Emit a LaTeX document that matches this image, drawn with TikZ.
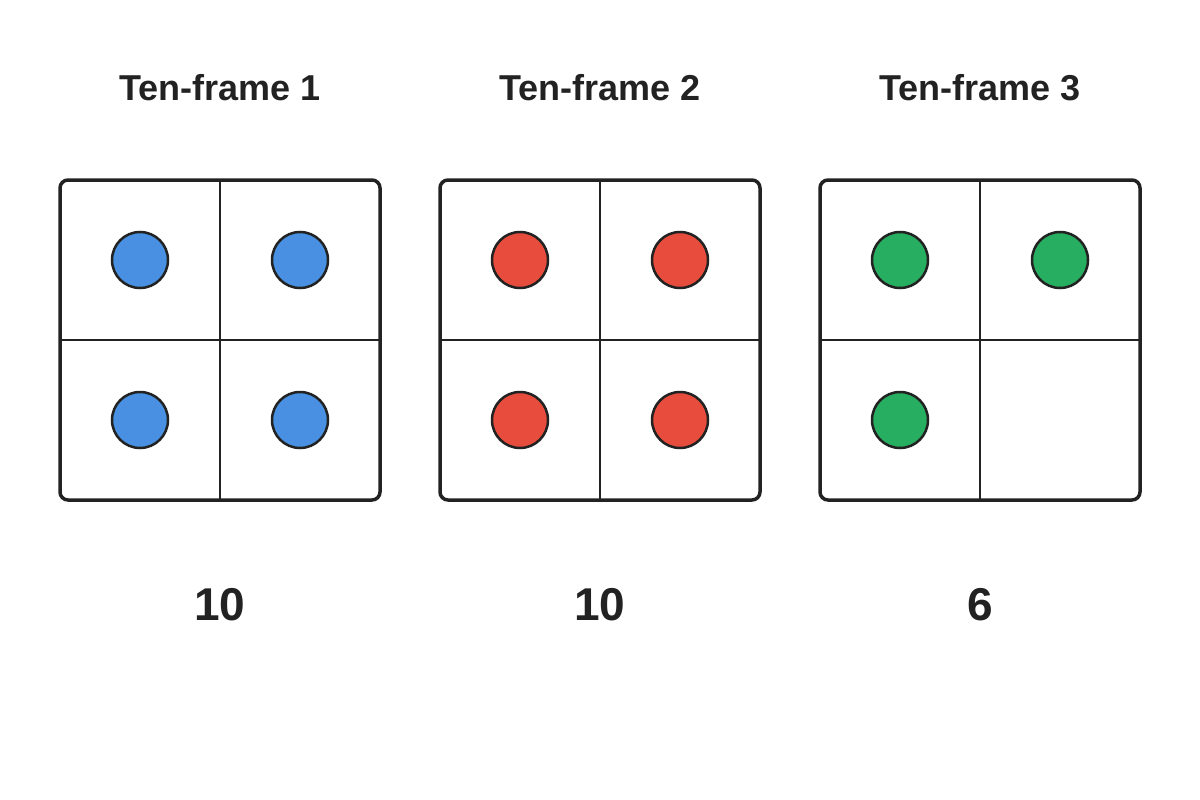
\documentclass[tikz,border=0pt]{standalone}
\usepackage{fontspec}
\setmainfont{Liberation Sans}
\definecolor{ink}{HTML}{222222}
\definecolor{cblue}{HTML}{4A90E2}
\definecolor{cred}{HTML}{E74C3C}
\definecolor{cgreen}{HTML}{27AE60}
\begin{document}
\begin{tikzpicture}[x=1pt,y=-1pt,
  frame/.style={draw=ink,line width=3.5pt,rounded corners=8pt},
  grid/.style={draw=ink,line width=2.5pt},
  dot/.style={circle,draw=ink,line width=2.5pt,minimum size=56pt,inner sep=0pt},
  title/.style={font=\fontsize{36}{40}\selectfont\bfseries,text=ink},
  count/.style={font=\fontsize{46}{50}\selectfont\bfseries,text=ink}]
\useasboundingbox (0,0) rectangle (1200,800);
\foreach \i/\col/\n/\lab in {0/cblue/4/10,1/cred/4/10,2/cgreen/3/6}{
  \pgfmathsetmacro{\ox}{380*\i}
  \begin{scope}[xshift=\ox pt]
    \node[title] (t\i) at (220,88) {Ten-frame \the\numexpr\i+1\relax};
    \draw[grid] (220,180) -- (220,500);
    \draw[grid] (60,340) -- (380,340);
    \draw[frame] (60,180) rectangle (380,500);
    \node[dot,fill=\col] (d\i a) at (140,260) {};
    \node[dot,fill=\col] (d\i b) at (300,260) {};
    \node[dot,fill=\col] (d\i c) at (140,420) {};
    \ifnum\n>3 \node[dot,fill=\col] (d\i d) at (300,420) {};\fi
    \node[count] (n\i) at (220,605) {\lab};
  \end{scope}
}
\end{tikzpicture}
\end{document}
